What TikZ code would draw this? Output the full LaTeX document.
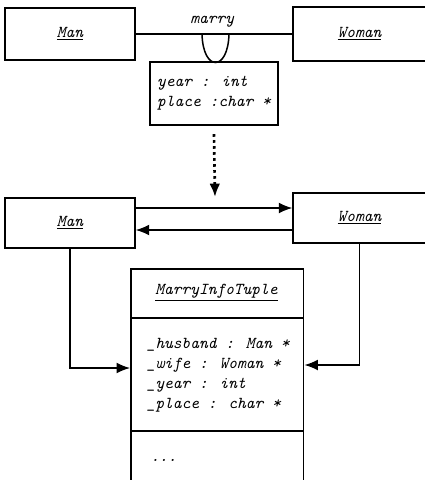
\documentclass[tikz,border=0pt]{standalone}
\usepackage{tikz}
\usetikzlibrary{arrows.meta}

\begin{document}
\begin{tikzpicture}[x=0.6pt, y=-0.6pt, line width=0.9pt,
    font=\ttfamily\itshape,
    classbox/.style={draw, minimum width=78pt, minimum height=31.2pt},
    arr/.style={-{Latex[length=8pt, width=6.5pt]}}]
            \useasboundingbox (0,0) rectangle (425,480);
            % association at the top
            \node[classbox, minimum height=31.2pt] (man1) at (70,34) {\underline{Man}};
            \node[classbox, minimum width=79.8pt, minimum height=32.4pt] (woman1) at (359.5,34) {\underline{Woman}};
            \node[draw, minimum width=76.8pt, minimum height=37.8pt, align=left] (info) at (214,93.5) {year : int\\place :char *};
            \draw (man1) -- (woman1) node[midway, above=0pt, xshift=-1pt] (marry) {marry};
            \coordinate (ua) at (202,34);
            \coordinate (ub) at (229,34);
            \draw (ua) .. controls (203,72) and (228,72) .. (ub);
            % transformation
            \coordinate (mid) at (215,197);
            \draw[dotted, line width=1.6pt, arr] ([yshift=-5pt]info.south) -- (mid);
            % result
            \node[classbox, minimum height=30pt] (man2) at (70,223) {\underline{Man}};
            \node[classbox, minimum width=79.8pt, minimum height=30pt] (woman2) at (359.5,218) {\underline{Woman}};
            \node[draw, minimum width=103.8pt, minimum height=133.2pt, anchor=north west] (tuple) at (130,268) {};
            \node (title) at (216.5,293) {\underline{MarryInfoTuple}};
            \draw (130,318) -- (303,318);
            \draw (130,431) -- (303,431);
            \node[anchor=west, align=left, inner sep=0pt] (attrs) at (146,375) {\_husband : Man *\\\_wife : Woman *\\\_year : int\\\_place : char *};
            \node[anchor=west, inner sep=0pt] (ops) at (150,460) {...};
            \coordinate (r1) at (0,208);
            \coordinate (r2) at (0,230);
            \coordinate (r3) at (0,368);
            \coordinate (r4) at (0,365);
            \draw[arr] (man2.east |- r1) -- (woman2.west |- r1);
            \draw[arr] (woman2.west |- r2) -- (man2.east |- r2);
            \draw[arr] (man2.south) |- (tuple.west |- r3);
            \draw[arr] (woman2.south) |- (tuple.east |- r4);
        \end{tikzpicture}
\end{document}
